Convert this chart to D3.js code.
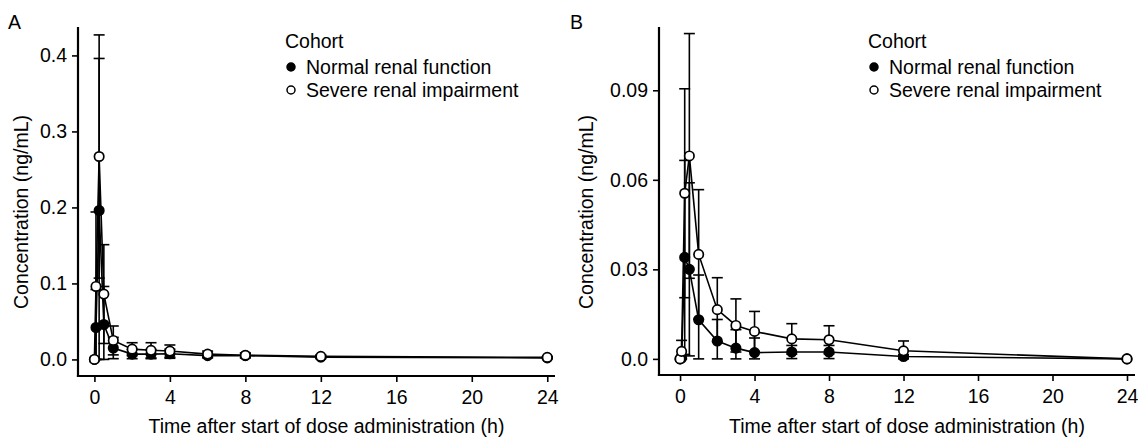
<!DOCTYPE html>
<html>
<head>
<meta charset="utf-8">
<script src="https://cdn.jsdelivr.net/npm/d3@7"></script>
<style>
  body { margin: 0; background: #fff; }
  text { font-family: "Liberation Sans", Arial, sans-serif; fill: #000; }
</style>
</head>
<body>
<div id="chart"></div>
<script>
// ---------------------------------------------------------------------------
// data

var times = [0, 0.083, 0.25, 0.5, 1, 2, 3, 4, 6, 8, 12, 24];
var cohorts = ["Normal renal function", "Severe renal impairment"];
var panelLabels = ["A", "B"];
var xTicks = [0, 4, 8, 12, 16, 20, 24];
var aYTicks = [0, 0.1, 0.2, 0.3, 0.4];
var bYTicks = [0, 0.03, 0.06, 0.09];

// panel A
var aNormalMean  = [0, 0.042, 0.196, 0.046, 0.015, 0.007, 0.007, 0.0075, 0.005, 0.005, 0.003, 0.002];
var aNormalSd    = [0, 0.05, 0.2, 0.05, 0.014, 0.006, 0.006, 0.006, 0.003, 0.003, 0.002, 0.001];
var aSevereMean  = [0, 0.096, 0.267, 0.086, 0.025, 0.0135, 0.012, 0.011, 0.007, 0.0055, 0.004, 0.0027];
var aSevereSd    = [0, 0.098, 0.16, 0.065, 0.019, 0.0085, 0.01, 0.008, 0.004, 0.003, 0.002, 0.001];

// panel B
var bNormalMean  = [0, 0.0003, 0.034, 0.030, 0.0131, 0.006, 0.0036, 0.0021, 0.0023, 0.0023, 0.0008, 0];
var bNormalSd    = [0, 0.001, 0.0325, 0.029, 0.015, 0.0072, 0.0062, 0.0049, 0.0022, 0.0022, 0.0006, 0];
var bSevereMean  = [0, 0.0025, 0.0555, 0.068, 0.035, 0.0165, 0.0112, 0.0092, 0.0067, 0.0064, 0.0027, 0];
var bSevereSd    = [0, 0.0037, 0.035, 0.041, 0.0217, 0.0107, 0.0089, 0.0067, 0.0051, 0.0047, 0.0033, 0];

// ---------------------------------------------------------------------------
// layout

var width = 1138, height = 437;
var fontSize = "19.5px";

var svg = d3.select("#chart").append("svg")
    .attr("width", width)
    .attr("height", height);

function series(mean, sd) {
    return times.map(function(t, i) {
        return {t: t, m: mean[i], sd: sd[i]};
    });
}

var panels = [
    {
        label: panelLabels[0], labelX: 8, left: 78, right: 555, top: 27, bottom: 376,
        xDomain: [-0.87, 24.41], yDomain: [-0.0218, 0.4374], yTicks: aYTicks,
        fmt: d3.format(".1f"), titleX: 21, legendX: 285,
        normal: series(aNormalMean, aNormalSd), severe: series(aSevereMean, aSevereSd)
    },
    {
        label: panelLabels[1], labelX: 570, left: 659, right: 1135, top: 27, bottom: 375,
        xDomain: [-1.13, 24.43], yDomain: [-0.0054, 0.1112], yTicks: bYTicks,
        fmt: function(d) { return d === 0 ? "0.0" : d3.format(".2f")(d); }, titleX: 586, legendX: 868,
        normal: series(bNormalMean, bNormalSd), severe: series(bSevereMean, bSevereSd)
    }
];

function drawPanel(p) {
    var x = d3.scaleLinear().domain(p.xDomain).range([p.left, p.right]);
    var y = d3.scaleLinear().domain(p.yDomain).range([p.bottom, p.top]);
    var g = svg.append("g");

    g.append("text")
        .attr("x", p.labelX).attr("y", 29)
        .style("font-size", fontSize)
        .text(p.label);

    // axes
    var xAxis = g.append("g")
        .attr("transform", "translate(0," + p.bottom + ")")
        .call(d3.axisBottom(x).tickValues(xTicks).tickSizeOuter(0).tickSize(6).tickPadding(8));
    var yAxis = g.append("g")
        .attr("transform", "translate(" + p.left + ",0)")
        .call(d3.axisLeft(y).tickValues(p.yTicks).tickFormat(p.fmt).tickSizeOuter(0).tickSize(6).tickPadding(5));

    [xAxis, yAxis].forEach(function(a) {
        a.select(".domain").attr("stroke", "#000").attr("stroke-width", 2.2);
        a.selectAll(".tick line").attr("stroke", "#000").attr("stroke-width", 1.6);
        a.selectAll(".tick text")
            .style("font-size", fontSize)
            .style("font-family", "'Liberation Sans', Arial, sans-serif")
            .attr("fill", "#000");
    });
    xAxis.select(".domain").attr("d", "M" + (p.left - 1.1) + ",0H" + p.right);
    yAxis.select(".domain").attr("d", "M0," + p.top + "V" + (p.bottom + 1.1));

    g.append("text")
        .attr("x", (p.left + p.right) / 2 + 10).attr("y", 433)
        .attr("text-anchor", "middle")
        .style("font-size", fontSize)
        .text("Time after start of dose administration (h)");

    g.append("text")
        .attr("transform", "translate(" + (p.titleX + 7) + ",212) rotate(-90)")
        .attr("text-anchor", "middle")
        .style("font-size", fontSize)
        .text("Concentration (ng/mL)");

    var line = d3.line()
        .x(function(d) { return x(d.t); })
        .y(function(d) { return y(d.m); });

    function drawSeries(data, filled) {
        var s = g.append("g");
        var bars = s.selectAll(".err")
            .data(data.filter(function(d) { return d.sd > 0; }))
            .enter().append("g")
            .attr("stroke", "#000")
            .attr("stroke-width", 1.6);
        bars.append("line")
            .attr("x1", function(d) { return x(d.t); })
            .attr("x2", function(d) { return x(d.t); })
            .attr("y1", function(d) { return y(Math.max(0, d.m - d.sd)); })
            .attr("y2", function(d) { return y(d.m + d.sd); });
        bars.append("line")
            .attr("x1", function(d) { return x(d.t) - 5.5; })
            .attr("x2", function(d) { return x(d.t) + 5.5; })
            .attr("y1", function(d) { return y(d.m + d.sd); })
            .attr("y2", function(d) { return y(d.m + d.sd); });
        bars.append("line")
            .attr("x1", function(d) { return x(d.t) - 5.5; })
            .attr("x2", function(d) { return x(d.t) + 5.5; })
            .attr("y1", function(d) { return y(Math.max(0, d.m - d.sd)); })
            .attr("y2", function(d) { return y(Math.max(0, d.m - d.sd)); });

        s.append("path")
            .datum(data)
            .attr("fill", "none")
            .attr("stroke", "#000")
            .attr("stroke-width", 1.6)
            .attr("d", line);

        s.selectAll("circle")
            .data(data)
            .enter().append("circle")
            .attr("cx", function(d) { return x(d.t); })
            .attr("cy", function(d) { return y(d.m); })
            .attr("r", 4.7)
            .attr("fill", filled ? "#000" : "#fff")
            .attr("stroke", "#000")
            .attr("stroke-width", 1.7);
    }

    drawSeries(p.normal, true);
    drawSeries(p.severe, false);

    // legend
    var lg = g.append("g");
    lg.append("text")
        .attr("x", p.legendX).attr("y", 48)
        .style("font-size", fontSize)
        .text("Cohort");
    var items = lg.selectAll(".item")
        .data(cohorts)
        .enter().append("g")
        .attr("transform", function(d, i) { return "translate(" + p.legendX + "," + (67 + i * 23) + ")"; });
    items.append("circle")
        .attr("cx", 6).attr("cy", 0).attr("r", 4)
        .attr("fill", function(d, i) { return i === 0 ? "#000" : "#fff"; })
        .attr("stroke", "#000")
        .attr("stroke-width", 1.5);
    items.append("text")
        .attr("x", 21).attr("y", 7)
        .style("font-size", fontSize)
        .text(function(d) { return d; });
}

panels.forEach(drawPanel);
</script>
</body>
</html>
